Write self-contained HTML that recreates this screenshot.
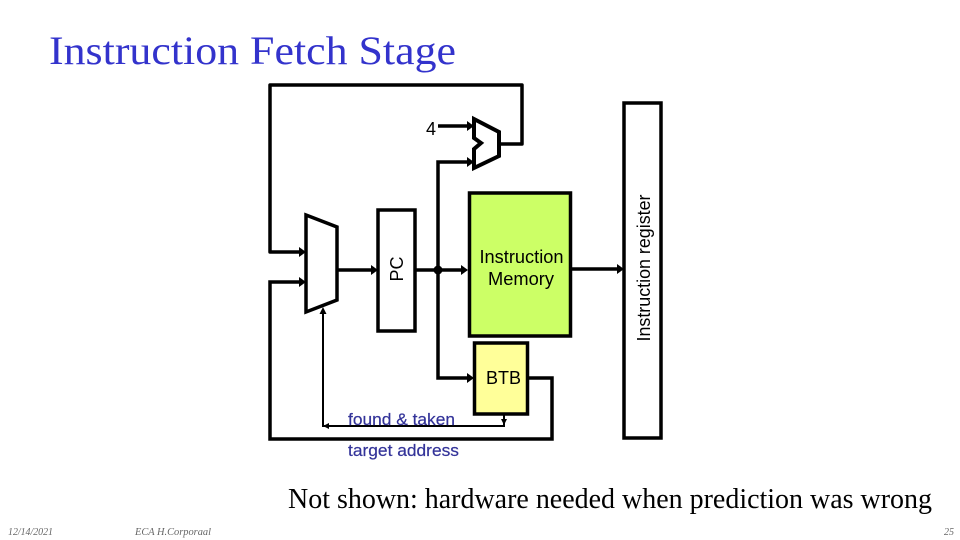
<!DOCTYPE html>
<html><head><meta charset="utf-8"><style>
html,body{margin:0;padding:0;background:#fff}
svg{display:block}
</style></head><body>
<svg width="960" height="540" viewBox="0 0 960 540" xmlns="http://www.w3.org/2000/svg">
<text x="49" y="64" font-family="Liberation Serif" font-size="40" fill="#3333cc" textLength="407" lengthAdjust="spacingAndGlyphs">Instruction Fetch Stage</text>
<g fill="none" stroke="#000" stroke-width="3.500">
<path d="M302 252H270V85H522V144H499" stroke-linejoin="round"/>
<path d="M438 126H468"/>
<path d="M468 162H438V378H468"/>
<path d="M474 119L499 132V156L474 168V149L481 143L474 138Z" stroke-width="4" fill="#fff"/>
<path d="M306 215L337 227V300L306 312Z" stroke-width="3.500" fill="#fff"/>
<path d="M302 282H270V439H552V378H529"/>
<path d="M337 270H372"/>
<path d="M415 270H462"/>
<path d="M571 269H618"/>
<rect x="378" y="210" width="37" height="121" fill="#fff"/>
<rect x="469.500" y="193" width="101" height="143" fill="#ccff66"/>
<rect x="474.500" y="343" width="53" height="71" fill="#ffff99"/>
<rect x="624" y="103" width="37" height="335" fill="#fff"/>
</g>
<path d="M299 247L306 252L299 257ZM299 277L306 282L299 287ZM467 121L474 126L467 131ZM467 157L474 162L467 167ZM467 373L474 378L467 383ZM371 265L378 270L371 275ZM461 265L468 270L461 275ZM617 264L624 269L617 274Z" fill="#000"/>
<circle cx="438" cy="270" r="4.500" fill="#000"/>
<g fill="none" stroke="#000" stroke-width="2">
<path d="M323 312V426H504V414"/>
</g>
<path d="M323 307L319.500 314H326.500ZM323 426L329 423V429ZM504 425L501 419H507Z" fill="#000"/>
<g font-family="Liberation Sans" font-size="18" fill="#000">
<text x="431" y="135" text-anchor="middle">4</text>
<text x="521.500" y="263" text-anchor="middle" textLength="84" lengthAdjust="spacingAndGlyphs">Instruction</text>
<text x="521" y="285" text-anchor="middle" textLength="66" lengthAdjust="spacingAndGlyphs">Memory</text>
<text x="503.500" y="384" text-anchor="middle">BTB</text>
<text transform="translate(403 269) rotate(-90)" text-anchor="middle">PC</text>
<text transform="translate(650 268) rotate(-90)" text-anchor="middle" textLength="147" lengthAdjust="spacingAndGlyphs">Instruction register</text>
</g>
<g font-family="Liberation Sans" font-size="17" fill="#333399" stroke="#333399" stroke-width="0.200">
<text x="348" y="425" textLength="107" lengthAdjust="spacingAndGlyphs">found &amp; taken</text>
<text x="348" y="456" textLength="111" lengthAdjust="spacingAndGlyphs">target address</text>
</g>
<text x="288" y="508" font-family="Liberation Serif" font-size="28" fill="#000" textLength="644" lengthAdjust="spacingAndGlyphs">Not shown: hardware needed when prediction was wrong</text>
<g font-family="Liberation Serif" font-size="10" font-style="italic" fill="#666">
<text x="8" y="535" textLength="45" lengthAdjust="spacingAndGlyphs">12/14/2021</text>
<text x="135" y="535" textLength="76" lengthAdjust="spacingAndGlyphs">ECA H.Corporaal</text>
<text x="944" y="535">25</text>
</g>
</svg>
</body></html>
